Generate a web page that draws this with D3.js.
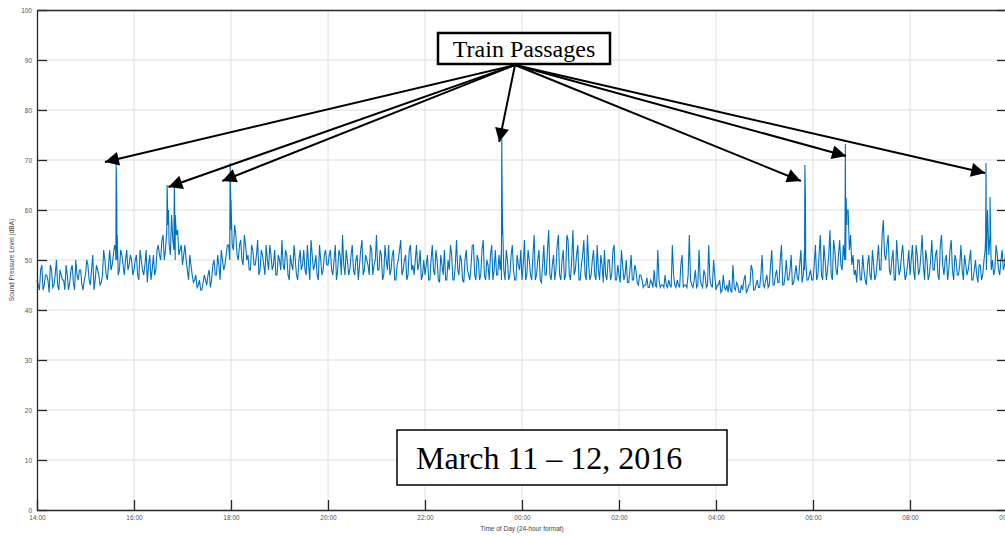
<!DOCTYPE html>
<html>
<head>
<meta charset="utf-8">
<script src="https://cdn.jsdelivr.net/npm/d3@7"></script>
<style>
body { margin: 0; background: white; }
svg { display: block; }
</style>
</head>
<body>
<svg></svg>
<script>
var w = 1005
var h = 536

// baseline samples, one every 3 minutes, one array per 2 hours (dBA)
var seg1 = [46,44,49,45,47,43.5,48,45,50,44, 47,46,49,44,48,45.5,50,46,48,44, 47,49,45,51,46,48,45,47,50,46, 52,49,53,50,48,51,47,52,49,50]
var seg2 = [48,51,46,50,47,52,49,46,51,48, 53,50,55,52,57,51,54,50,56,52, 49,53,48,51,47,46,44.5,46,44,47, 45,48,46,50,47,49,52,48,51,53]
var seg3 = [56,52,55,50,54,49,53,51,48,52, 49,54,48,51,47,50,53,48,52,47, 50,54,48,51,46,49,53,47,50,48, 52,47,49,54,48,51,46,50,48,52]
var seg4 = [49,52,47,53,48,51,55,47,50,48, 53,47,51,49,54,48,50,47,52,49, 55,48,51,47,50,53,48,52,46,50, 54,48,51,47,53,49,50,48,52,47]
var seg5 = [47,51,46,53,47,50,45.5,49,52,46, 48,51,46,54,47,50,45.5,52,47,49, 53,46,50,47,54,46,49,51,46,52, 47,48,55,46,50,47,53,46,51,48]
var seg6 = [46,54,47,50,46,55,47,52,45.5,53, 47,56,46,51,48,55,46,52,47,54, 46,56,48,53,46,51,47,55,46,50, 47,53,46,49,52,46,50,47,53,46]
var seg7 = [47,52,46,50,45.5,51,46,48,45,47, 44.5,45,44.5,46,44.5,45,52,44.5,45,47, 44.5,45,53,45,46,44.5,51,45,44.5,55, 45,46,44.5,52,45,48,44.5,53,45,50]
var seg8 = [44,45,43.5,47,44,43.5,44,49,44,45, 43.5,44,47,44,45,48,44,46,44.5,51, 44.5,47,45,52,45,48,45.5,53,45,50, 46,51,45.5,49,46,52,47,50,46,48]
var seg9 = [46,53,47,55,46,50,48,56,46,52, 47,54,48,50,57,52,49,47,45.5,50, 46,48,45,51,46,49,47,53,48,58, 50,55,47,52,46,50,48,53,46,49]
var seg10 = [47,53,46,51,48,55,46,50,47,54, 48,52,46,55,47,51,48,54,46,50, 47,53,46,49,48,52,46,50,45.5,49, 47,52,60,55,50,48,51,47,52,49, 50]

// samples in between, 1.5 minutes after each of the above
var half1 = [45,48,44,47,46,49,44.5,47,45,48, 46,44,47,45.5,49,44,47,48,45,46, 50,46,48,44,49,47,45.5,52,47,49, 48,51,50,47,52,49,50,48,51,47]
var half2 = [50,47,52,48,49,45.5,51,48,47,52, 51,54,50,56,53,59,52,55,51,53, 51,50,46,49,45.5,47,45,44,45.5,46, 47,44.5,49,47,51,46,50,49,53,50]
var half3 = [53,57,51,53,50,55,50,48,53,49, 51,47,52,49,53,48,51,49,47,51, 48,49,52,47,51,48,50,46,52,49, 48,53,46,51,49,47,53,47,51,49]
var half4 = [51,48,50,46,52,47,49,52,47,51, 48,50,46,52,47,51,49,53,47,50, 48,52,46,53,48,47,51,46,49,52, 47,50,46,52,48,47,53,49,46,50]
var half5 = [49,46,50,48,52,46,51,47,46,50, 53,46,49,48,51,46,50,48,46,53, 47,51,46,52,47,50,46,53,48,47, 51,46,48,52,46,51,48,46,49,52]
var half6 = [49,46,52,47,51,46,50,46,49,47, 52,47,49,46,53,47,50,46,55,47, 50,47,51,46,49,54,46,49,47,52, 46,48,51,45.5,47,50,46,52,46,49]
var half7 = [45.5,49,47,45.5,48,46,49,45.5,47,46, 45,46.5,44.5,45.5,48,44.5,46,45,44.5,45, 46,44.5,47,44.5,45,49,44.5,45,47,46, 44.5,48,45,46,44.5,47,45,46,44.5,47]
var half8 = [45,46,44,44.5,45,46,43.5,44.5,45.5,43.5, 45,46,43.5,45,49,44,45,44.5,47,45, 46,44.5,49,45,47,45.5,50,45,47,46, 48,45,47,46.5,49,45.5,48,46,47,46]
var half9 = [49,46,51,47,53,46,51,47,54,48, 51,49,53,50,60,55,51,48,50,46, 51,46,49,47,52,46,50,48,55,51, 53,48,50,46,54,47,51,49,47,52]
var half10 = [50,48,53,47,51,49,52,46,50,48, 51,47,53,49,50,46,52,48,51,47, 49,48,51,47,50,46,48,47,49,46, 50,48,51,48,47,53,48,50,48,52]

// train passage peaks: hours after 14:00, dBA
var spikeHours = [1.62, 1.633, 1.645, 1.655, 2.675, 2.683, 2.71, 2.825, 2.833, 2.85, 3.975, 3.983, 4.0, 9.575, 9.583, 9.59, 9.6, 15.825, 15.833, 15.845, 16.66, 16.667, 16.683, 16.7, 19.56, 19.567, 19.59, 19.65]
var spikeValues = [52, 69.4, 62, 55, 55, 65, 60, 58, 65.6, 59, 56, 69.4, 62, 52, 74.4, 64.5, 57, 52, 69, 62, 56, 73.2, 62.4, 60, 55, 69.4, 57, 62.6]

var xTicks = [0, 2, 4, 6, 8, 10, 12, 14, 16, 18, 20]
var xTickLabels = ["14:00","16:00","18:00","20:00","22:00","00:00","02:00","04:00","06:00","08:00","09:59"]
var yTicks = [0,10,20,30,40,50,60,70,80,90,100]

// arrow targets (hours, dBA)
var arrowHours = [1.40, 2.71, 3.82, 9.53, 15.75, 16.68, 19.55]
var arrowValues = [69.6, 64.6, 65.8, 73.6, 65.8, 70.8, 67.4]

var svg = d3.select("svg")
	.attr("width", w)
	.attr("height", h)

var x = d3.scaleLinear().domain([0, 20]).range([37, 1007])
var y = d3.scaleLinear().domain([0, 100]).range([510, 10])

var arrData = []
var segs = [seg1, seg2, seg3, seg4, seg5, seg6, seg7, seg8, seg9, seg10]
var halves = [half1, half2, half3, half4, half5, half6, half7, half8, half9, half10]
segs.forEach(function(s, k){
	s.forEach(function(v, i){
		arrData.push({t: k*2 + i*0.05, v: v})
	})
})
halves.forEach(function(s, k){
	s.forEach(function(v, i){
		arrData.push({t: k*2 + i*0.05 + 0.025, v: v})
	})
})
spikeHours.forEach(function(t, i){
	arrData.push({t: t, v: spikeValues[i]})
})
arrData.sort(function(a, b){ return a.t - b.t })

// grid
svg.append("g").selectAll("line")
	.data(yTicks.slice(1, -1))
	.join("line")
	.attr("x1", x(0)).attr("x2", x(20))
	.attr("y1", function(d){ return y(d) }).attr("y2", function(d){ return y(d) })
	.attr("stroke", "#dedede").attr("stroke-width", 1)

svg.append("g").selectAll("line")
	.data(xTicks.slice(1, -1))
	.join("line")
	.attr("x1", function(d){ return x(d) }).attr("x2", function(d){ return x(d) })
	.attr("y1", y(0)).attr("y2", y(100))
	.attr("stroke", "#dedede").attr("stroke-width", 1)

// data line
var line = d3.line()
	.x(function(d){ return x(d.t) })
	.y(function(d){ return y(d.v) })

svg.append("path")
	.datum(arrData)
	.attr("d", line)
	.attr("fill", "none")
	.attr("stroke", "#0072BD")
	.attr("stroke-width", 1.1)

// axes
var axisColor = "#262626"
var yAxis = d3.axisLeft(y).tickValues(yTicks).tickSizeInner(-10).tickSizeOuter(0).tickPadding(14)
var gy = svg.append("g").attr("transform", "translate(" + x(0) + ",0)").call(yAxis)
var yAxisR = d3.axisRight(y).tickValues(yTicks).tickSizeInner(-10).tickSizeOuter(0).tickFormat("")
var gyr = svg.append("g").attr("transform", "translate(" + x(20) + ",0)").call(yAxisR)
var xAxis = d3.axisBottom(x).tickValues(xTicks).tickSizeInner(-10).tickSizeOuter(0).tickPadding(14)
	.tickFormat(function(d, i){ return xTickLabels[i] })
var gx = svg.append("g").attr("transform", "translate(0," + y(0) + ")").call(xAxis)
var xAxisT = d3.axisTop(x).tickValues(xTicks).tickSizeInner(0).tickSizeOuter(0).tickFormat("")
var gxt = svg.append("g").attr("transform", "translate(0," + y(100) + ")").call(xAxisT)

;[gy, gyr, gx, gxt].forEach(function(g){
	g.select(".domain").attr("stroke", axisColor).attr("stroke-width", 1.3)
	g.selectAll(".tick line").attr("stroke", axisColor).attr("stroke-width", 1.3)
	g.selectAll(".tick text")
		.attr("fill", "#555")
		.style("font-family", "Liberation Sans, Arial, sans-serif")
		.style("font-size", "6.5px")
})
gy.selectAll(".tick text").attr("dx", 9)
gx.selectAll(".tick text").attr("dy", "-0.55em")

svg.append("text")
	.attr("x", 522).attr("y", 531)
	.attr("text-anchor", "middle")
	.attr("fill", "#444")
	.style("font-family", "Liberation Sans, Arial, sans-serif")
	.style("font-size", "6.5px")
	.text("Time of Day (24-hour format)")

svg.append("text")
	.attr("transform", "translate(14,260) rotate(-90)")
	.attr("text-anchor", "middle")
	.attr("fill", "#444")
	.style("font-family", "Liberation Sans, Arial, sans-serif")
	.style("font-size", "6.5px")
	.text("Sound Pressure Level (dBA)")

// arrows from the label
var defs = svg.append("defs")
defs.append("marker")
	.attr("id", "head")
	.attr("viewBox", "0 0 10 10")
	.attr("refX", 10).attr("refY", 5)
	.attr("markerWidth", 17).attr("markerHeight", 14)
	.attr("markerUnits", "userSpaceOnUse")
	.attr("orient", "auto")
	.append("path")
	.attr("d", "M0,0 L10,5 L0,10 Z")
	.attr("fill", "black")

var ox = 515, oy = 65
svg.append("g").selectAll("line")
	.data(arrowHours)
	.join("line")
	.attr("x1", ox).attr("y1", oy)
	.attr("x2", function(d){ return x(d) })
	.attr("y2", function(d, i){ return y(arrowValues[i]) })
	.attr("stroke", "black")
	.attr("stroke-width", 2)
	.attr("marker-end", "url(#head)")

svg.append("rect")
	.attr("x", 438).attr("y", 33).attr("width", 172).attr("height", 31)
	.attr("fill", "white").attr("stroke", "black").attr("stroke-width", 2.5)
svg.append("text")
	.attr("x", 524).attr("y", 57)
	.attr("text-anchor", "middle")
	.style("font-family", "Liberation Serif, Times New Roman, serif")
	.style("font-size", "24px")
	.text("Train Passages")

svg.append("rect")
	.attr("x", 397).attr("y", 430).attr("width", 330).attr("height", 55)
	.attr("fill", "white").attr("stroke", "black").attr("stroke-width", 1.5)
svg.append("text")
	.attr("x", 416).attr("y", 469)
	.style("font-family", "Liberation Serif, Times New Roman, serif")
	.style("font-size", "32px")
	.text("March 11 – 12, 2016")
</script>
</body>
</html>
